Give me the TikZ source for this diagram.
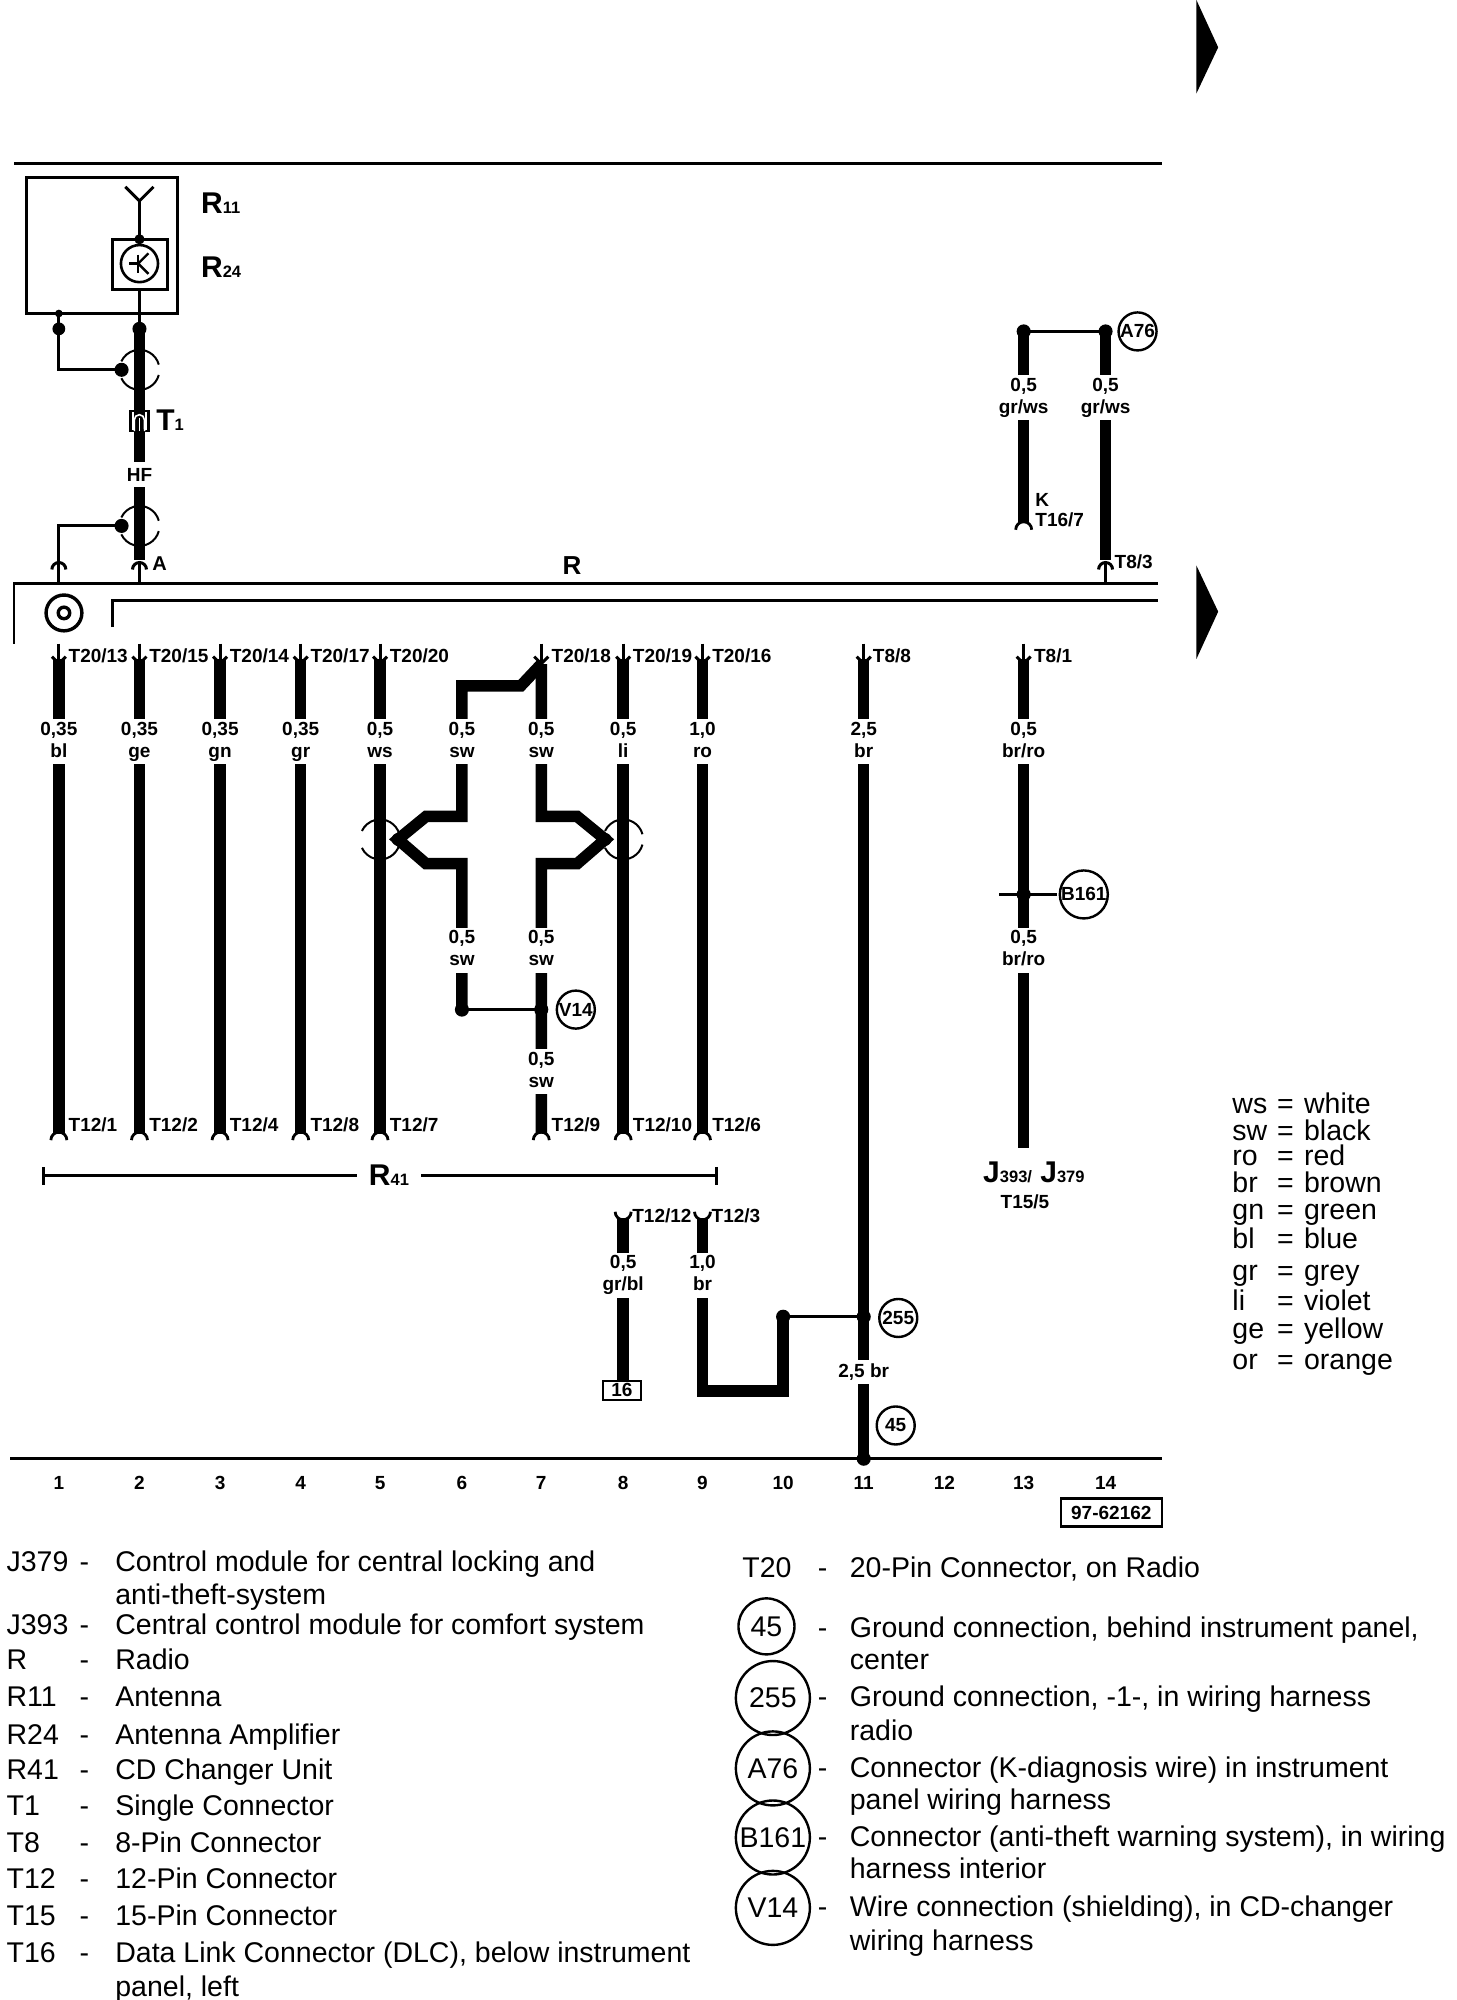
\documentclass[tikz,border=0pt]{standalone}
\usepackage{fontspec}
\setmainfont{Liberation Sans}
\usetikzlibrary{arrows.meta}

\newcommand{\lblfont}{\fontsize{19}{22}\selectfont\bfseries}
\newcommand{\subfont}{\fontsize{16.5}{16}\selectfont\bfseries}
\newcommand{\bigfont}{\fontsize{30}{30}\selectfont\bfseries}
\newcommand{\legfont}{\fontsize{28.5}{28}\selectfont}

\tikzset{
  wire/.style={line width=11.5pt},
  thinwire/.style={line width=3pt},
  frameline/.style={line width=2.8pt},
  pinlab/.style={font=\lblfont,anchor=mid west,inner sep=0pt},
  gauge/.style={font=\lblfont,fill=white,align=center,inner xsep=2pt,inner ysep=0pt,minimum height=45pt,execute at end node={\vphantom{g}}},
  colnum/.style={font=\lblfont,inner sep=0pt},
  bigname/.style={font=\bigfont,anchor=mid west,inner sep=0pt},
  spot/.style={circle,draw,line width=2.4pt,fill=white,font=\lblfont,inner sep=0pt,minimum size=38pt},
  legtext/.style={font=\legfont,anchor=base west,inner sep=0pt},
  legspot/.style={circle,draw,line width=2.4pt,font=\legfont,inner sep=0pt,minimum size=74pt},
  plugdown/.pic={
    \draw[line width=3pt] (0,0) -- (0,-20pt);
    \draw[line width=3pt] (-7pt,-13pt) -- (0,-20pt) -- (7pt,-13pt);
  },
  plugup/.pic={
    \draw[line width=3pt] (0,0) -- (0,22pt);
    \draw[line width=3pt] (-7pt,14pt) arc[start angle=180,end angle=0,radius=7pt];
  },
  sockup/.pic={
    \draw[line width=2.8pt] (-8pt,0) arc[start angle=180,end angle=0,radius=8pt];
  },
  sockdown/.pic={
    \draw[line width=2.8pt] (-8pt,0) arc[start angle=180,end angle=360,radius=8pt];
  },
  shieldring/.pic={
    \draw[line width=2pt] (15:20pt) arc[start angle=15,end angle=155,radius=20pt];
    \draw[line width=2pt] (-15:20pt) arc[start angle=-15,end angle=-155,radius=20pt];
  }
}

\begin{document}
\begin{tikzpicture}[x=1.2794pt,y=-1.2794pt]
\useasboundingbox (0,0) rectangle (1138,1563);

% page marks and rails
\fill (935,0) -- (952,37) -- (935,73) -- cycle;
\fill (935,442) -- (952,478) -- (935,515) -- cycle;
\draw[frameline] (11,128) -- (908,128);
\draw[frameline] (11,503) -- (11,456) -- (905,456);
\draw[frameline] (88,490) -- (88,469) -- (905,469);
\draw[frameline] (8,1140) -- (908,1140);
\node[font=\fontsize{26}{26}\selectfont\bfseries,inner sep=0pt] (radio) at (447,442) {R};

% antenna
\draw[frameline] (21,139) rectangle (139,245);
\node[bigname] (r11) at (157,165) {R{\subfont 11}};
\node[bigname] (r24) at (157,215) {R{\subfont 24}};
\coordinate (ant) at (109,157);
\coordinate (amp) at (109,187);
\draw[thinwire] (98,146) -- (ant) -- (120,146);
\draw[thinwire] (ant) -- (amp);
\fill (amp) circle (4);
\draw[line width=3pt] (88,187) rectangle (131,226);
\draw[line width=2.6pt] (109,206) circle (14.5);
\draw[line width=2.4pt] (101,206) -- (108,206);
\draw[line width=2.4pt] (108,199) -- (108,213);
\draw[line width=2.4pt] (116,198) -- (108,206) -- (116,214);

% HF lead
\coordinate (hf1) at (109,257);
\coordinate (hf2) at (109,438);
\coordinate (sh1) at (95,289);
\coordinate (sh2) at (95,411);
\coordinate (gnd1) at (46,257);
\draw[thinwire] (109,226) -- (hf1);
\draw[wire] (hf1) -- (hf2);
\fill (hf1) circle (5.5);
\node[font=\lblfont,fill=white,inner xsep=2pt,inner ysep=0pt,minimum height=25pt] (hf) at (109,371) {HF};
\pic at (109,289) {shieldring};
\pic at (109,411) {shieldring};
\fill (sh1) circle (5.5);
\fill (sh2) circle (5.5);
\draw[thinwire] (46,245) -- (gnd1) -- (46,289) -- (sh1);
\fill (gnd1) circle (5);
\fill (46,245) circle (3);
\draw[thinwire] (sh2) -- (46,411) -- (46,440);
\pic at (46,456) {plugup};
\pic at (109,456) {plugup};
\node[pinlab,font=\fontsize{20}{20}\selectfont\bfseries] (a) at (119,444) {A};
% T1 housing
\draw[line width=2.4pt,fill=white] (102,321) rectangle (116,337);
\draw[wire] (109,318) -- (109,340);
\draw[white,line width=1.6pt] (105,337) -- (105,328) arc[start angle=180,end angle=0,radius=5pt] -- (113,337);
\draw[white,line width=1.6pt] (109,327) -- (109,337);
\node[bigname] (t1) at (122,334) {T{\subfont 1}};

% coax socket
\draw[line width=3.4pt] (50,479) circle (14);
\draw[line width=3.4pt] (50,479) circle (4.5);

% straight wires of the radio plug
\foreach \x/\ta/\tb/\g in {46/13/1/{0,35\\bl},109/15/2/{0,35\\ge},172/14/4/{0,35\\gn},235/17/8/{0,35\\gr},297/20/7/{0,5\\ws},487/19/10/{0,5\\li},549/16/6/{1,0\\ro}}{
  \coordinate (p\ta) at (\x,515);
  \coordinate (q\tb) at (\x,886);
  \draw[wire] (p\ta) -- (q\tb);
  \node[gauge] (g\ta) at (\x,579.5) {\g};
  \node[pinlab] (l\ta) at (\x+7.5,516) {T20/\ta};
  \node[pinlab] (m\tb) at (\x+7.5,882) {T12/\tb};
  \pic at (\x,503) {plugdown};
  \pic at (\x,891) {sockup};
}

% shielded pair
\coordinate (p18) at (423,519);
\coordinate (s6) at (311,656);
\coordinate (s7) at (473,656);
\coordinate (v6) at (361,789);
\coordinate (v7) at (423,789);
\coordinate (q9) at (423,886);
\draw[wire] (p18) -- (407,536) -- (361,536) -- (361,638) -- (333,638) -- (s6) -- (333,675) -- (361,675) -- (v6);
\draw[wire] (p18) -- (423,638) -- (451,638) -- (s7) -- (451,675) -- (423,675) -- (q9);
\pic at (423,503) {plugdown};
\node[pinlab] (l18) at (431,516) {T20/18};
\node[pinlab] (m9) at (431,882) {T12/9};
\pic at (423,891) {sockup};
\node[gauge] (g6a) at (361,579.5) {0,5\\sw};
\node[gauge] (g7a) at (423,579.5) {0,5\\sw};
\node[gauge] (g6b) at (361,742.5) {0,5\\sw};
\node[gauge] (g7b) at (423,742.5) {0,5\\sw};
\node[gauge] (g7c) at (423,837.5) {0,5\\sw};
\pic at (297,656) {shieldring};
\pic at (487,656) {shieldring};
\fill (s6) circle (5);
\fill (s7) circle (5);
\fill (v6) circle (5.5);
\fill (v7) circle (5.5);
\node[spot] (v14) at (450,789) {V14};
\draw[thinwire] (v6) -- (v7);

% T12 lower pins and ground
\coordinate (e11) at (675,1140);
\coordinate (j11) at (675,1029);
\coordinate (j10) at (612,1029);
\coordinate (p3) at (549,952);
\coordinate (p12) at (487,952);
\draw[wire] (675,515) -- (e11);
\pic at (675,503) {plugdown};
\node[pinlab] (l88) at (682,516) {T8/8};
\node[gauge] (g11) at (675,579.5) {2,5\\br};
\node[font=\lblfont,fill=white,inner xsep=2pt,inner ysep=0pt,minimum height=24pt] (g11b) at (675,1072) {2,5 br};
\draw[wire] (p3) -- (549,1087) -- (612,1087) -- (j10);
\draw[wire] (p12) -- (487,1080);
\node[gauge] (g12) at (487,996.5) {0,5\\gr/bl};
\node[gauge] (g3) at (549,996.5) {1,0\\br};
\pic at (487,947) {sockdown};
\pic at (549,947) {sockdown};
\node[pinlab] (m12) at (494,953) {T12/12};
\node[pinlab] (m3) at (556,953) {T12/3};
\node[draw,line width=2.4pt,fill=white,font=\lblfont,inner sep=0pt,minimum width=38pt,minimum height=19pt] (box16) at (486,1086.5) {16};
\draw[thinwire] (j10) -- (j11);
\fill (j10) circle (5.5);
\fill (j11) circle (5.5);
\fill (e11) circle (5.5);
\node[spot] (s255) at (702,1030) {255};
\node[spot] (s45) at (700,1114) {45};

% right hand wires
\coordinate (k13) at (800,259);
\coordinate (k14) at (864,259);
\coordinate (q16) at (800,409);
\coordinate (q83) at (864,438);
\draw[wire] (k13) -- (q16);
\draw[wire] (k14) -- (q83);
\draw[thinwire] (k13) -- (k14);
\fill (k13) circle (5.5);
\fill (k14) circle (5.5);
\node[gauge] (g13) at (800,311) {0,5\\gr/ws};
\node[gauge] (g14) at (864,311) {0,5\\gr/ws};
\node[spot] (a76) at (889,259) {A76};
\pic at (800,414) {sockup};
\pic at (864,456) {plugup};
\node[pinlab] (kk) at (809,394) {K};
\node[pinlab] (t167) at (809,409) {T16/7};
\node[pinlab] (t83) at (871,442) {T8/3};
\coordinate (p81) at (800,515);
\coordinate (q81) at (800,897);
\coordinate (b161) at (800,699);
\draw[wire] (p81) -- (q81);
\pic at (800,503) {plugdown};
\node[pinlab] (l81) at (808,516) {T8/1};
\node[gauge] (g81a) at (800,579.5) {0,5\\br/ro};
\node[gauge] (g81b) at (800,742.5) {0,5\\br/ro};
\draw[thinwire] (781,699) -- (826,699);
\fill (b161) circle (5.5);
\node[spot,minimum size=48pt] (s161) at (847,699) {B161};
\node[font=\bigfont,inner sep=0pt] (j393) at (808,916) {J{\subfont 393/} J{\subfont 379}};
\node[font=\lblfont,inner sep=0pt] (t155) at (801,939) {T15/5};

% R41 span
\coordinate (brl) at (33,919);
\coordinate (brr) at (561,919);
\node[bigname,anchor=center,inner xsep=12pt] (r41) at (304,918) {R{\subfont 41}};
\draw[thinwire,{Bar[width=18pt]}-] (brl) -- (r41.west |- brl);
\draw[thinwire,-{Bar[width=18pt]}] (r41.east |- brr) -- (brr);

% column numbers
\foreach \n/\x in {1/46,2/109,3/172,4/235,5/297,6/361,7/423,8/487,9/549,10/612,11/675,12/738,13/800,14/864}
  \node[colnum] (n\n) at (\x,1159) {\n};
\node[draw,line width=2.4pt,font=\lblfont,inner sep=0pt,minimum width=101pt,minimum height=28pt] (code) at (868.5,1182) {97-62162};

% colour key
\foreach \a/\b/\y in {ws/white/870,sw/black/891,ro/red/911,br/brown/932,gn/green/953,bl/blue/976,gr/grey/1001,li/violet/1024,ge/yellow/1046,or/orange/1070}{
  \node[legtext] (ka\a) at (963,\y) {\a};
  \node[legtext] (ke\a) at (998,\y) {=};
  \node[legtext] (kb\a) at (1019,\y) {\b};
}

% component list
\foreach \c/\d/\y in {J379/Control module for central locking and/1228,J393/Central control module for comfort system/1277,R/Radio/1305,R11/Antenna/1334,R24/Antenna Amplifier/1363,R41/CD Changer Unit/1391,T1/Single Connector/1419,T8/8-Pin Connector/1448,T12/12-Pin Connector/1476,T15/15-Pin Connector/1505,T16/Data Link Connector (DLC){,} below instrument/1534}{
  \node[legtext] (c\y) at (5,\y) {\c};
  \node[legtext] (h\y) at (62,\y) {-};
  \node[legtext] (d\y) at (90,\y) {\d};
}
\node[legtext] (d1254) at (90,1254) {anti-theft-system};
\node[legtext] (d1560) at (90,1560) {panel{,} left};

\node[legtext] (c1233) at (580,1233) {T20};
\node[legtext] (h1233) at (639,1233) {-};
\node[legtext] (d1233) at (664,1233) {20-Pin Connector{,} on Radio};
\node[legspot,minimum size=56pt] (l45) at (599,1271) {45};
\node[legspot] (l255) at (604,1327) {255};
\node[legspot] (la76) at (604,1382) {A76};
\node[legspot] (lb161) at (604,1436) {B161};
\node[legspot] (lv14) at (604,1491) {V14};
\foreach \d/\e/\y/\z in {{Ground connection{,} behind instrument panel{,}}/center/1280/1305,{Ground connection{,} -1-{,} in wiring harness}/radio/1334/1360,{Connector (K-diagnosis wire) in instrument}/panel wiring harness/1389/1414,{Connector (anti-theft warning system){,} in wiring}/harness interior/1443/1468,{Wire connection (shielding){,} in CD-changer}/wiring harness/1498/1524}{
  \node[legtext] (h\y) at (639,\y) {-};
  \node[legtext] (d\y) at (664,\y) {\d};
  \node[legtext] (d\z) at (664,\z) {\e};
}

\end{tikzpicture}
\end{document}
